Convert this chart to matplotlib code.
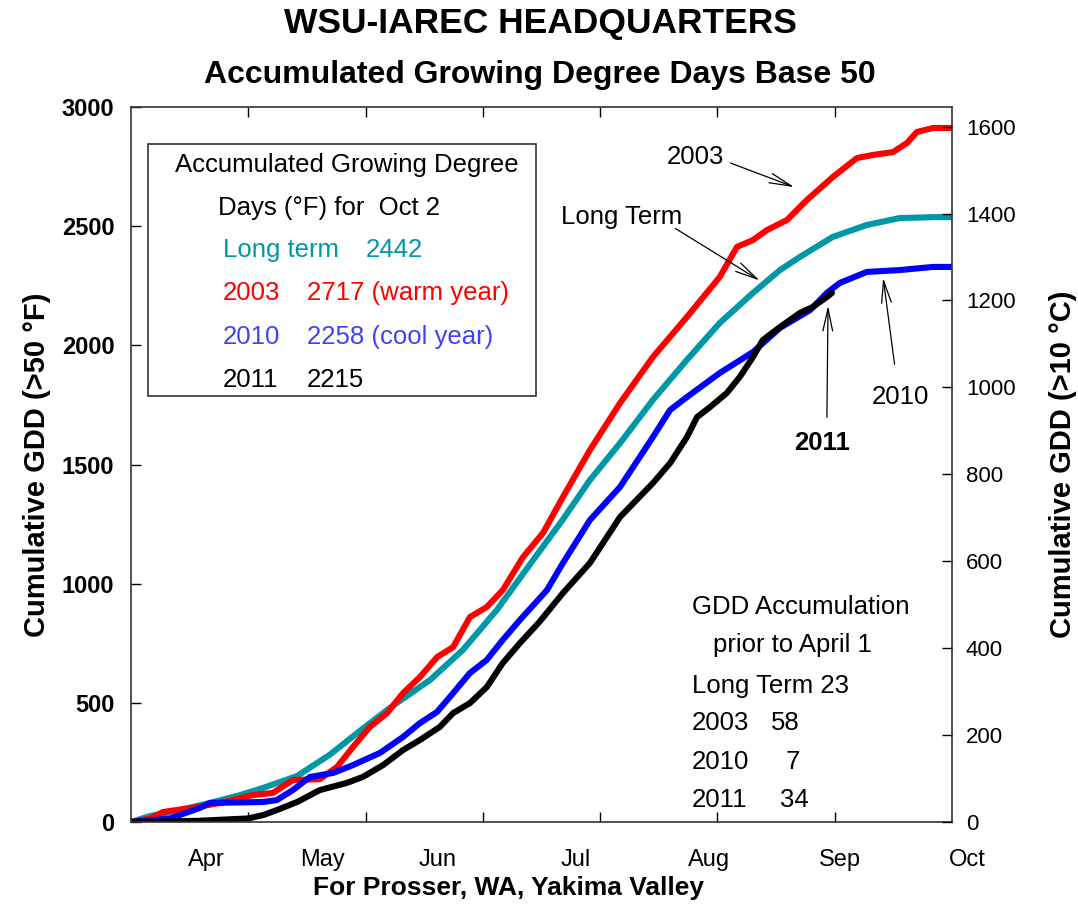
import matplotlib
matplotlib.use("Agg")
import matplotlib.pyplot as plt
from matplotlib.patches import Rectangle
import matplotlib.transforms as mtransforms

plt.rcParams['font.family'] = ['Liberation Sans', 'DejaVu Sans']

# x = days from start of axis (ticks every 30 days), y = cumulative GDD (F)
lt_days = [0, 4.9, 12.5, 20.2, 27.9, 33.8, 42.5, 50.9, 59.3, 67, 76.5, 84.9, 93.6, 102, 110.5,
           117.4, 125.1, 133.5, 142.2, 150.6, 159.1, 166, 171.1, 179.5, 188.2, 196.6, 205.1, 210]
lt_gdd = [0, 25, 50, 80, 113, 143, 193, 283, 392, 488, 596, 722, 890, 1080, 1270,
          1435, 1590, 1771, 1939, 2094, 2220, 2316, 2371, 2455, 2505, 2534, 2538, 2538]

y2003_days = [0, 5, 8.2, 16.9, 22.8, 31.2, 36.3, 41.4, 48.3, 52.7, 56.8, 61.1, 65.5, 69.6, 73.9,
              78.3, 82.4, 86.7, 91.0, 95.1, 100.3, 105.4, 110.5, 117.4, 125.1, 133.5, 142.2, 150.6,
              155.0, 159.1, 162.7, 167.8, 172.9, 179.5, 185.7, 189.8, 194.9, 198.5, 201.0, 205.1, 210]
y2003_gdd = [0, 15, 42, 63, 80, 113, 122, 176, 180, 231, 315, 399, 457, 541, 608,
             692, 734, 860, 902, 973, 1112, 1213, 1364, 1561, 1758, 1951, 2119, 2287,
             2413, 2442, 2484, 2526, 2610, 2706, 2786, 2799, 2811, 2849, 2895, 2912, 2912]

y2010_days = [0, 10, 17.6, 20.2, 33.8, 37.3, 41.4, 45.8, 51.7, 56.8, 63.7, 69.6, 73.9, 78.3, 82.4,
              86.7, 91.0, 95.1, 99.5, 106.4, 110.5, 117.4, 125.1, 133.5, 137.9, 142.2, 150.6, 159.1,
              166.0, 173.7, 178.0, 181.3, 188.2, 196.7, 205.1, 210]
y2010_gdd = [0, 15, 59, 80, 84, 92, 134, 189, 206, 239, 290, 357, 415, 462, 541,
             625, 680, 764, 848, 973, 1087, 1267, 1406, 1615, 1729, 1783, 1884, 1972,
             2073, 2148, 2220, 2262, 2308, 2316, 2329, 2329]

y2011_days = [0, 17, 30, 33.8, 37.3, 42.5, 48.3, 55.2, 59.3, 64.5, 69.6, 73.9, 79.0, 82.4, 86.7,
              91.0, 95.1, 99.5, 104.5, 110.5, 117.4, 125.1, 133.5, 137.9, 142.2, 144.8, 148.1, 152.4,
              155.7, 159.1, 161.6, 166.0, 171.1, 174.4, 178.0, 179.3]
y2011_gdd = [0, 5, 15, 29, 50, 84, 134, 164, 189, 239, 302, 344, 399, 457, 499,
             566, 667, 751, 840, 961, 1087, 1280, 1422, 1506, 1615, 1699, 1741, 1800,
             1867, 1951, 2022, 2077, 2136, 2161, 2203, 2220]

month_labels = ['Apr', 'May', 'Jun', 'Jul', 'Aug', 'Sep', 'Oct']
month_label_pos = [19.4, 49.1, 78.5, 113.8, 147.8, 181.3, 213.8]
month_ticks = [30, 60, 90, 120, 150, 180]

teal = '#0097a7'
fs = 18.5

fig = plt.figure(figsize=(10.78, 9.07), dpi=100)
ax = fig.add_axes([0.1215, 0.0937, 0.7616, 0.7883])

ax.plot(lt_days, lt_gdd, color=teal, lw=4.4, solid_capstyle='round')
ax.plot(y2003_days, y2003_gdd, color='#ff0000', lw=4.4, solid_capstyle='round')
ax.plot(y2010_days, y2010_gdd, color='#0000ff', lw=4.4, solid_capstyle='round')
ax.plot(y2011_days, y2011_gdd, color='black', lw=4.4, solid_capstyle='round')

ax.set_xlim(0, 210)
ax.set_ylim(0, 3000)
ax.set_xticks(month_ticks)
ax.set_xticklabels([])
ax.set_yticks(range(0, 3001, 500))
ax.tick_params(axis='x', direction='in', top=True, length=7, width=1)
ax.tick_params(axis='y', direction='in', length=7, width=1, labelsize=17, pad=12)
for lbl in ax.get_yticklabels():
    lbl.set_fontweight('bold')
for s in ax.spines.values():
    s.set_color('#333333')
    s.set_linewidth(1.2)

trans = mtransforms.blended_transform_factory(ax.transData, ax.transAxes)
for lab, pos in zip(month_labels, month_label_pos):
    ax.text(pos, -0.053, lab, transform=trans, ha='center', va='center', fontsize=17, clip_on=False)

ax.set_ylabel('Cumulative GDD (>50 °F)', fontsize=21, fontweight='bold', labelpad=8)
fig.text(0.472, 0.021, 'For Prosser, WA, Yakima Valley', ha='center', va='center',
         fontsize=19, fontweight='bold')

ax2 = ax.twinx()
ax2.set_ylim(0, 1645)
ax2.set_yticks(range(0, 1601, 200))
ax2.tick_params(axis='y', direction='in', length=7, width=1, labelsize=16, pad=10)
ax2.set_ylabel('Cumulative GDD (>10 °C)', fontsize=21, fontweight='bold', labelpad=24)
for s in ax2.spines.values():
    s.set_visible(False)

fig.text(0.501, 0.974, 'WSU-IAREC HEADQUARTERS', ha='center', va='center', fontsize=25.5, fontweight='bold')
fig.text(0.501, 0.917, 'Accumulated Growing Degree Days Base 50', ha='center', va='center',
         fontsize=23, fontweight='bold')

# summary box
ax.add_patch(Rectangle((0.0207, 0.596), 0.4726, 0.352, transform=ax.transAxes,
                       facecolor='white', edgecolor='#333333', lw=1.2, zorder=5))
ax.text(0.0536, 0.919, 'Accumulated Growing Degree', transform=ax.transAxes, fontsize=fs,
        va='center', zorder=6)
ax.text(0.106, 0.859, 'Days (°F) for  Oct 2', transform=ax.transAxes, fontsize=fs, va='center', zorder=6)
rows = [('Long term', '2442', teal, 0.286),
        ('2003', '2717 (warm year)', '#ff0000', 0.2144),
        ('2010', '2258 (cool year)', '#4040ff', 0.2144),
        ('2011', '2215', 'black', 0.2144)]
for i, (a, b, c, xb) in enumerate(rows):
    yy = 0.800 - i * 0.0607
    ax.text(0.112, yy, a, transform=ax.transAxes, fontsize=fs, color=c, va='center', zorder=6)
    ax.text(xb, yy, b, transform=ax.transAxes, fontsize=fs, color=c, va='center', zorder=6)

# GDD prior to April 1
ax.text(0.683, 0.301, 'GDD Accumulation', transform=ax.transAxes, fontsize=fs, va='center')
ax.text(0.709, 0.248, 'prior to April 1', transform=ax.transAxes, fontsize=fs, va='center')
ax.text(0.683, 0.190, 'Long Term 23', transform=ax.transAxes, fontsize=fs, va='center')
prior = [('2003', '58', 0.815), ('2010', '7', 0.815), ('2011', '34', 0.825)]
for i, (a, b, xr) in enumerate(prior):
    yy = 0.138 - i * 0.0535
    ax.text(0.683, yy, a, transform=ax.transAxes, fontsize=fs, va='center')
    ax.text(xr, yy, b, transform=ax.transAxes, fontsize=fs, va='center', ha='right')

# curve labels with arrows
arrow = dict(arrowstyle='->,head_length=1.6,head_width=0.35', lw=0.9, color='black')
ax.text(144.5, 2790, '2003', fontsize=fs, ha='center', va='center')
ax.annotate('', xy=(170.3, 2660), xytext=(152.7, 2769), arrowprops=arrow)
ax.text(125.6, 2539, 'Long Term', fontsize=fs, ha='center', va='center')
ax.annotate('', xy=(161.4, 2266), xytext=(138.6, 2497), arrowprops=arrow)
ax.text(196.7, 1783, '2010', fontsize=fs, ha='center', va='center')
ax.annotate('', xy=(192.3, 2295), xytext=(195.4, 1909), arrowprops=arrow)
ax.text(176.7, 1590, '2011', fontsize=fs, ha='center', va='center', fontweight='bold')
ax.annotate('', xy=(178.3, 2178), xytext=(178.0, 1687), arrowprops=arrow)

fig.savefig('out.png', dpi=100)
